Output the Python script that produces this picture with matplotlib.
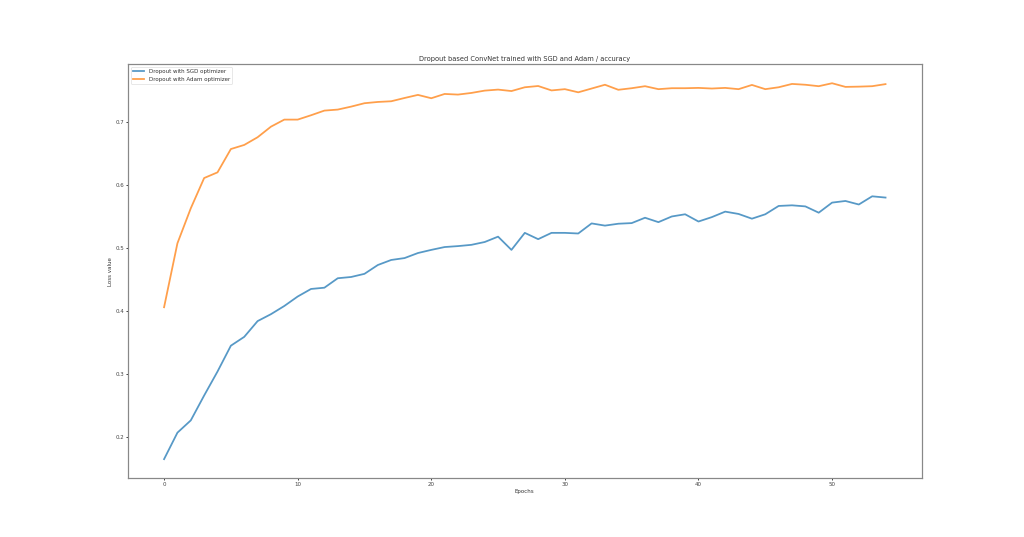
import matplotlib
matplotlib.use("Agg")
import matplotlib.pyplot as plt

# accuracy per epoch
epochs = list(range(55))

sgd_acc = [0.165, 0.207, 0.2265, 0.266, 0.304, 0.345, 0.359, 0.384, 0.395, 0.408,
           0.423, 0.435, 0.437, 0.452, 0.454, 0.459, 0.473, 0.481, 0.484, 0.492,
           0.497, 0.5015, 0.503, 0.505, 0.5095, 0.518, 0.497, 0.524, 0.514, 0.524,
           0.524, 0.523, 0.539, 0.5355, 0.5385, 0.5395, 0.548, 0.541, 0.55, 0.5535,
           0.542, 0.549, 0.5577, 0.554, 0.5465, 0.5535, 0.5667, 0.5677, 0.566, 0.556,
           0.572, 0.5746, 0.569, 0.582, 0.58]

adam_acc = [0.406, 0.5075, 0.563, 0.611, 0.620, 0.657, 0.6635, 0.6757, 0.6925, 0.7037,
            0.7037, 0.7106, 0.718, 0.7196, 0.7243, 0.7297, 0.7317, 0.7328, 0.738, 0.7429,
            0.7376, 0.7444, 0.7434, 0.746, 0.7497, 0.7513, 0.749, 0.755, 0.757, 0.750,
            0.752, 0.747, 0.753, 0.759, 0.751, 0.7535, 0.7567, 0.752, 0.7535, 0.7535,
            0.754, 0.753, 0.754, 0.752, 0.7587, 0.752, 0.755, 0.7603, 0.759, 0.7567,
            0.7614, 0.7556, 0.756, 0.7567, 0.760]

plt.rcParams['text.color'] = '#333333'
plt.rcParams['axes.labelcolor'] = '#333333'
plt.rcParams['xtick.color'] = '#444444'
plt.rcParams['ytick.color'] = '#444444'
plt.rcParams['axes.edgecolor'] = '#888888'
plt.rcParams['axes.linewidth'] = 2.2
plt.rcParams['xtick.major.width'] = 1.8
plt.rcParams['ytick.major.width'] = 1.8

plt.figure(figsize=(25.6, 13.425), dpi=40)
plt.plot(epochs, sgd_acc, label="Dropout with SGD optimizer", linewidth=3.2, alpha=0.75)
plt.plot(epochs, adam_acc, label="Dropout with Adam optimizer", linewidth=3.2, alpha=0.75)
plt.title("Dropout based ConvNet trained with SGD and Adam / accuracy")
plt.xlabel("Epochs")
plt.ylabel("Loss value")
plt.legend(loc="upper left")

# Guardar la grafica
plt.savefig("out.png", dpi=40)
